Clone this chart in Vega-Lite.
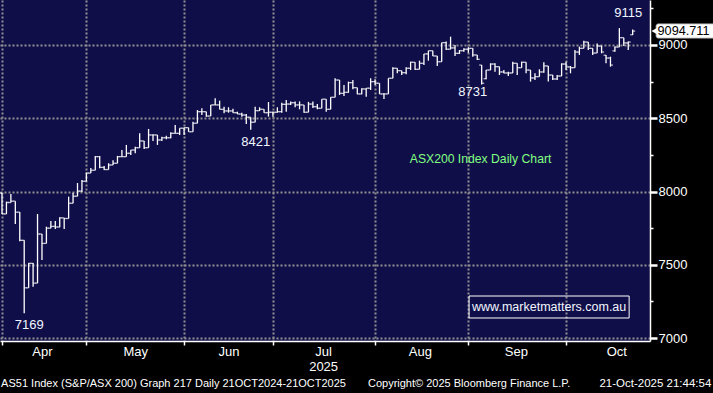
{
"$schema": "https://vega.github.io/schema/vega-lite/v6.json",
"width": 650, "height": 341,
"autosize": {"type": "none"},
"padding": {"left": 0, "top": 0, "right": 63, "bottom": 52},
"background": "#000000",
"config": {"view": {"fill": "#100e48", "stroke": null}, "font": "Liberation Sans", "text": {"font": "Liberation Sans"}},
"data": {"values": [
{"d":"2025-03-31","i":0,"o":7990,"h":7990,"l":7847,"c":7847},
{"d":"2025-04-01","i":1,"o":7847,"h":7931,"l":7847,"c":7925},
{"d":"2025-04-02","i":2,"o":7925,"h":7983,"l":7925,"c":7934},
{"d":"2025-04-03","i":3,"o":7934,"h":7934,"l":7778,"c":7859},
{"d":"2025-04-04","i":4,"o":7859,"h":7860,"l":7660,"c":7667},
{"d":"2025-04-07","i":5,"o":7667,"h":7667,"l":7169,"c":7343},
{"d":"2025-04-08","i":6,"o":7343,"h":7512,"l":7343,"c":7510},
{"d":"2025-04-09","i":7,"o":7510,"h":7512,"l":7351,"c":7375},
{"d":"2025-04-10","i":8,"o":7375,"h":7847,"l":7375,"c":7710},
{"d":"2025-04-11","i":9,"o":7710,"h":7710,"l":7533,"c":7646},
{"d":"2025-04-14","i":10,"o":7646,"h":7760,"l":7646,"c":7750},
{"d":"2025-04-15","i":11,"o":7750,"h":7799,"l":7750,"c":7762},
{"d":"2025-04-16","i":12,"o":7762,"h":7799,"l":7745,"c":7758},
{"d":"2025-04-17","i":13,"o":7758,"h":7825,"l":7756,"c":7820},
{"d":"2025-04-22","i":14,"o":7820,"h":7820,"l":7744,"c":7816},
{"d":"2025-04-23","i":15,"o":7816,"h":7965,"l":7816,"c":7920},
{"d":"2025-04-24","i":16,"o":7920,"h":7992,"l":7920,"c":7968},
{"d":"2025-04-28","i":17,"o":7968,"h":8058,"l":7968,"c":8003},
{"d":"2025-04-29","i":18,"o":8003,"h":8079,"l":7997,"c":8070},
{"d":"2025-04-30","i":19,"o":8070,"h":8129,"l":8070,"c":8126},
{"d":"2025-05-01","i":20,"o":8126,"h":8161,"l":8126,"c":8145},
{"d":"2025-05-02","i":21,"o":8145,"h":8243,"l":8145,"c":8238},
{"d":"2025-05-05","i":22,"o":8238,"h":8243,"l":8159,"c":8165},
{"d":"2025-05-06","i":23,"o":8165,"h":8175,"l":8147,"c":8150},
{"d":"2025-05-07","i":24,"o":8150,"h":8193,"l":8150,"c":8181},
{"d":"2025-05-08","i":25,"o":8181,"h":8213,"l":8181,"c":8193},
{"d":"2025-05-09","i":26,"o":8193,"h":8243,"l":8193,"c":8238},
{"d":"2025-05-12","i":27,"o":8238,"h":8283,"l":8238,"c":8238},
{"d":"2025-05-13","i":28,"o":8238,"h":8318,"l":8238,"c":8261},
{"d":"2025-05-14","i":29,"o":8261,"h":8283,"l":8249,"c":8283},
{"d":"2025-05-15","i":30,"o":8283,"h":8306,"l":8261,"c":8299},
{"d":"2025-05-16","i":31,"o":8299,"h":8397,"l":8299,"c":8345},
{"d":"2025-05-19","i":32,"o":8345,"h":8345,"l":8290,"c":8299},
{"d":"2025-05-20","i":33,"o":8299,"h":8427,"l":8299,"c":8386},
{"d":"2025-05-21","i":34,"o":8386,"h":8390,"l":8345,"c":8386},
{"d":"2025-05-22","i":35,"o":8386,"h":8386,"l":8318,"c":8352},
{"d":"2025-05-23","i":36,"o":8352,"h":8374,"l":8345,"c":8367},
{"d":"2025-05-26","i":37,"o":8367,"h":8380,"l":8357,"c":8367},
{"d":"2025-05-27","i":38,"o":8367,"h":8404,"l":8363,"c":8397},
{"d":"2025-05-28","i":39,"o":8397,"h":8454,"l":8397,"c":8397},
{"d":"2025-05-29","i":40,"o":8397,"h":8432,"l":8386,"c":8432},
{"d":"2025-05-30","i":41,"o":8432,"h":8436,"l":8386,"c":8436},
{"d":"2025-06-02","i":42,"o":8436,"h":8436,"l":8408,"c":8408},
{"d":"2025-06-03","i":43,"o":8408,"h":8477,"l":8408,"c":8466},
{"d":"2025-06-04","i":44,"o":8466,"h":8556,"l":8466,"c":8545},
{"d":"2025-06-05","i":45,"o":8545,"h":8568,"l":8522,"c":8545},
{"d":"2025-06-06","i":46,"o":8545,"h":8545,"l":8511,"c":8515},
{"d":"2025-06-10","i":47,"o":8515,"h":8591,"l":8515,"c":8591},
{"d":"2025-06-11","i":48,"o":8591,"h":8636,"l":8591,"c":8591},
{"d":"2025-06-12","i":49,"o":8591,"h":8620,"l":8561,"c":8561},
{"d":"2025-06-13","i":50,"o":8561,"h":8579,"l":8534,"c":8550},
{"d":"2025-06-16","i":51,"o":8550,"h":8575,"l":8538,"c":8550},
{"d":"2025-06-17","i":52,"o":8550,"h":8565,"l":8538,"c":8538},
{"d":"2025-06-18","i":53,"o":8538,"h":8545,"l":8529,"c":8529},
{"d":"2025-06-19","i":54,"o":8529,"h":8538,"l":8510,"c":8522},
{"d":"2025-06-20","i":55,"o":8522,"h":8529,"l":8461,"c":8507},
{"d":"2025-06-23","i":56,"o":8507,"h":8507,"l":8421,"c":8473},
{"d":"2025-06-24","i":57,"o":8473,"h":8579,"l":8473,"c":8552},
{"d":"2025-06-25","i":58,"o":8552,"h":8575,"l":8550,"c":8561},
{"d":"2025-06-26","i":59,"o":8561,"h":8561,"l":8538,"c":8538},
{"d":"2025-06-27","i":60,"o":8538,"h":8611,"l":8511,"c":8541},
{"d":"2025-06-30","i":61,"o":8541,"h":8545,"l":8511,"c":8541},
{"d":"2025-07-01","i":62,"o":8541,"h":8575,"l":8538,"c":8545},
{"d":"2025-07-02","i":63,"o":8545,"h":8606,"l":8538,"c":8595},
{"d":"2025-07-03","i":64,"o":8595,"h":8625,"l":8545,"c":8597},
{"d":"2025-07-04","i":65,"o":8597,"h":8615,"l":8591,"c":8606},
{"d":"2025-07-07","i":66,"o":8606,"h":8615,"l":8575,"c":8591},
{"d":"2025-07-08","i":67,"o":8591,"h":8615,"l":8561,"c":8591},
{"d":"2025-07-09","i":68,"o":8591,"h":8591,"l":8538,"c":8541},
{"d":"2025-07-10","i":69,"o":8541,"h":8612,"l":8541,"c":8597},
{"d":"2025-07-11","i":70,"o":8597,"h":8615,"l":8570,"c":8579},
{"d":"2025-07-14","i":71,"o":8579,"h":8597,"l":8561,"c":8568},
{"d":"2025-07-15","i":72,"o":8568,"h":8630,"l":8568,"c":8630},
{"d":"2025-07-16","i":73,"o":8630,"h":8630,"l":8545,"c":8561},
{"d":"2025-07-17","i":74,"o":8561,"h":8643,"l":8561,"c":8643},
{"d":"2025-07-18","i":75,"o":8643,"h":8773,"l":8643,"c":8761},
{"d":"2025-07-21","i":76,"o":8761,"h":8761,"l":8659,"c":8670},
{"d":"2025-07-22","i":77,"o":8670,"h":8727,"l":8652,"c":8677},
{"d":"2025-07-23","i":78,"o":8677,"h":8750,"l":8674,"c":8743},
{"d":"2025-07-24","i":79,"o":8743,"h":8761,"l":8698,"c":8709},
{"d":"2025-07-25","i":80,"o":8709,"h":8709,"l":8664,"c":8666},
{"d":"2025-07-28","i":81,"o":8666,"h":8705,"l":8664,"c":8700},
{"d":"2025-07-29","i":82,"o":8700,"h":8705,"l":8647,"c":8705},
{"d":"2025-07-30","i":83,"o":8705,"h":8773,"l":8693,"c":8750},
{"d":"2025-07-31","i":84,"o":8750,"h":8766,"l":8727,"c":8739},
{"d":"2025-08-01","i":85,"o":8739,"h":8739,"l":8666,"c":8666},
{"d":"2025-08-04","i":86,"o":8666,"h":8670,"l":8632,"c":8666},
{"d":"2025-08-05","i":87,"o":8666,"h":8773,"l":8666,"c":8773},
{"d":"2025-08-06","i":88,"o":8773,"h":8848,"l":8773,"c":8841},
{"d":"2025-08-07","i":89,"o":8841,"h":8841,"l":8807,"c":8825},
{"d":"2025-08-08","i":90,"o":8825,"h":8825,"l":8795,"c":8811},
{"d":"2025-08-11","i":91,"o":8811,"h":8848,"l":8800,"c":8841},
{"d":"2025-08-12","i":92,"o":8841,"h":8886,"l":8829,"c":8882},
{"d":"2025-08-13","i":93,"o":8882,"h":8882,"l":8829,"c":8834},
{"d":"2025-08-14","i":94,"o":8834,"h":8893,"l":8834,"c":8875},
{"d":"2025-08-15","i":95,"o":8875,"h":8939,"l":8864,"c":8939},
{"d":"2025-08-18","i":96,"o":8939,"h":8961,"l":8893,"c":8961},
{"d":"2025-08-19","i":97,"o":8961,"h":8961,"l":8925,"c":8925},
{"d":"2025-08-20","i":98,"o":8925,"h":8925,"l":8857,"c":8886},
{"d":"2025-08-21","i":99,"o":8886,"h":9016,"l":8886,"c":9016},
{"d":"2025-08-22","i":100,"o":9016,"h":9023,"l":8966,"c":8971},
{"d":"2025-08-25","i":101,"o":8971,"h":9057,"l":8971,"c":8980},
{"d":"2025-08-26","i":102,"o":8980,"h":9000,"l":8925,"c":8943},
{"d":"2025-08-27","i":103,"o":8943,"h":8966,"l":8939,"c":8961},
{"d":"2025-08-28","i":104,"o":8961,"h":8977,"l":8954,"c":8971},
{"d":"2025-08-29","i":105,"o":8971,"h":8984,"l":8947,"c":8977},
{"d":"2025-09-01","i":106,"o":8977,"h":8977,"l":8920,"c":8932},
{"d":"2025-09-02","i":107,"o":8932,"h":8932,"l":8898,"c":8902},
{"d":"2025-09-03","i":108,"o":8863,"h":8863,"l":8731,"c":8739},
{"d":"2025-09-04","i":109,"o":8770,"h":8829,"l":8766,"c":8829},
{"d":"2025-09-05","i":110,"o":8829,"h":8875,"l":8829,"c":8870},
{"d":"2025-09-08","i":111,"o":8870,"h":8875,"l":8818,"c":8852},
{"d":"2025-09-09","i":112,"o":8852,"h":8852,"l":8795,"c":8816},
{"d":"2025-09-10","i":113,"o":8816,"h":8830,"l":8807,"c":8809},
{"d":"2025-09-11","i":114,"o":8809,"h":8818,"l":8788,"c":8809},
{"d":"2025-09-12","i":115,"o":8809,"h":8886,"l":8809,"c":8875},
{"d":"2025-09-15","i":116,"o":8875,"h":8875,"l":8795,"c":8845},
{"d":"2025-09-16","i":117,"o":8845,"h":8886,"l":8845,"c":8882},
{"d":"2025-09-17","i":118,"o":8882,"h":8882,"l":8807,"c":8829},
{"d":"2025-09-18","i":119,"o":8829,"h":8829,"l":8750,"c":8775},
{"d":"2025-09-19","i":120,"o":8775,"h":8807,"l":8761,"c":8784},
{"d":"2025-09-22","i":121,"o":8784,"h":8834,"l":8784,"c":8816},
{"d":"2025-09-23","i":122,"o":8816,"h":8882,"l":8811,"c":8857},
{"d":"2025-09-24","i":123,"o":8857,"h":8857,"l":8750,"c":8795},
{"d":"2025-09-25","i":124,"o":8795,"h":8795,"l":8761,"c":8768},
{"d":"2025-09-26","i":125,"o":8768,"h":8795,"l":8761,"c":8788},
{"d":"2025-09-29","i":126,"o":8788,"h":8875,"l":8788,"c":8870},
{"d":"2025-09-30","i":127,"o":8870,"h":8886,"l":8829,"c":8850},
{"d":"2025-10-01","i":128,"o":8850,"h":8857,"l":8807,"c":8845},
{"d":"2025-10-02","i":129,"o":8845,"h":8966,"l":8845,"c":8952},
{"d":"2025-10-03","i":130,"o":8952,"h":8989,"l":8932,"c":8977},
{"d":"2025-10-06","i":131,"o":8977,"h":9029,"l":8977,"c":9020},
{"d":"2025-10-07","i":132,"o":9020,"h":9020,"l":8966,"c":8977},
{"d":"2025-10-08","i":133,"o":8977,"h":8977,"l":8932,"c":8945},
{"d":"2025-10-09","i":134,"o":8945,"h":9011,"l":8945,"c":8993},
{"d":"2025-10-10","i":135,"o":8993,"h":8993,"l":8943,"c":8952},
{"d":"2025-10-13","i":136,"o":8930,"h":8932,"l":8875,"c":8911},
{"d":"2025-10-14","i":137,"o":8911,"h":8920,"l":8852,"c":8863},
{"d":"2025-10-15","i":138,"o":8960,"h":8989,"l":8954,"c":8986},
{"d":"2025-10-16","i":139,"o":8986,"h":9115,"l":8986,"c":9050},
{"d":"2025-10-17","i":140,"o":9050,"h":9050,"l":8993,"c":9014},
{"d":"2025-10-20","i":141,"o":9014,"h":9023,"l":8966,"c":9020},
{"d":"2025-10-21","i":142,"o":9070,"h":9105,"l":9068,"c":9094.711}
]},
"resolve": {"axis": {"x": "independent", "y": "independent"}},
"layer": [
{"mark": {"type": "rule", "color": "#ffffff", "strokeWidth": 1.3},
 "encoding": {
  "x": {"field": "i", "type": "quantitative", "scale": {"domain": [-0.45, 145.9], "nice": false, "zero": false},
    "axis": {"orient": "bottom", "values": [0, 19, 41, 61, 84, 105, 127], "labels": false, "title": null, "grid": true, "gridColor": "#8f8f8f", "gridDash": [2, 2], "gridWidth": 2, "domainColor": "#ffffff", "domainWidth": 1.5, "tickColor": "#ffffff", "tickSize": 4, "tickWidth": 1.5}},
  "y": {"field": "l", "type": "quantitative", "scale": {"domain": [6980, 9307], "nice": false, "zero": false},
    "axis": {"orient": "right", "values": [7000, 7500, 8000, 8500, 9000], "format": "d", "title": null, "grid": true, "gridColor": "#8f8f8f", "gridDash": [2, 2], "gridWidth": 2, "domainColor": "#ffffff", "domainWidth": 1.5, "tickColor": "#ffffff", "tickSize": 7, "tickWidth": 2.5, "labelColor": "#ffffff", "labelFont": "Liberation Sans", "labelFontSize": 13, "labelPadding": 1, "labelFlush": false, "labelOverlap": false}},
  "y2": {"field": "h"}
 }},
{"mark": {"type": "tick", "orient": "horizontal", "color": "#ffffff", "size": 2.6, "thickness": 1.3, "xOffset": -1.2},
 "encoding": {
  "x": {"field": "i", "type": "quantitative",
    "axis": {"orient": "bottom", "values": [9, 30, 51, 72.3, 94.1, 115.7, 138.3], "ticks": false, "domain": false, "grid": false, "title": null, "labelColor": "#ffffff", "labelFont": "Liberation Sans", "labelFontSize": 13, "labelPadding": 4, "labelLineHeight": 15, "labelOverlap": false, "labelFlush": false,
      "labelExpr": "datum.value < 20 ? 'Apr' : datum.value < 40 ? 'May' : datum.value < 60 ? 'Jun' : datum.value < 80 ? ['Jul', '2025'] : datum.value < 100 ? 'Aug' : datum.value < 125 ? 'Sep' : 'Oct'"}},
  "y": {"field": "o", "type": "quantitative",
    "axis": {"orient": "right", "values": [7250, 7750, 8250, 8750, 9250], "labels": false, "grid": false, "domain": false, "title": null, "tickColor": "#ffffff", "tickSize": 3, "tickWidth": 1.5}}
 }},
{"mark": {"type": "tick", "orient": "horizontal", "color": "#ffffff", "size": 2.6, "thickness": 1.3, "xOffset": 1.2},
 "encoding": {
  "x": {"field": "i", "type": "quantitative", "axis": null},
  "y": {"field": "c", "type": "quantitative", "axis": null}
 }},
{"data": {"values": [{"i": 5, "v": 7169, "t": "7169"}, {"i": 56, "v": 8421, "t": "8421"}]},
 "mark": {"type": "text", "color": "#f0f6ff", "fontSize": 13, "dx": 5, "dy": 12, "baseline": "middle"},
 "encoding": {"x": {"field": "i", "type": "quantitative", "axis": null}, "y": {"field": "v", "type": "quantitative", "axis": null}, "text": {"field": "t"}}},
{"data": {"values": [{"i": 108, "v": 8731, "t": "8731"}]},
 "mark": {"type": "text", "color": "#f0f6ff", "fontSize": 13, "dx": -9, "dy": 8, "baseline": "middle"},
 "encoding": {"x": {"field": "i", "type": "quantitative", "axis": null}, "y": {"field": "v", "type": "quantitative", "axis": null}, "text": {"field": "t"}}},
{"data": {"values": [{"i": 139, "v": 9115, "t": "9115"}]},
 "mark": {"type": "text", "color": "#f0f6ff", "fontSize": 13, "dx": 9, "dy": -15, "baseline": "middle"},
 "encoding": {"x": {"field": "i", "type": "quantitative", "axis": null}, "y": {"field": "v", "type": "quantitative", "axis": null}, "text": {"field": "t"}}},
{"data": {"values": [{"t": "ASX200 Index Daily Chart"}]},
 "mark": {"type": "text", "color": "#80ff80", "fontSize": 12.2, "baseline": "middle"},
 "encoding": {"x": {"datum": 107.75, "type": "quantitative", "axis": null}, "y": {"datum": 8222, "type": "quantitative", "axis": null}, "text": {"field": "t"}}},
{"data": {"values": [{}]},
 "mark": {"type": "rect", "fillOpacity": 0, "stroke": "#ffffff", "strokeWidth": 1},
 "encoding": {"x": {"datum": 105.16, "type": "quantitative", "axis": null}, "x2": {"datum": 141.2}, "y": {"datum": 7287, "type": "quantitative", "axis": null}, "y2": {"datum": 7137}}},
{"data": {"values": [{"t": "www.marketmatters.com.au"}]},
 "mark": {"type": "text", "color": "#f0f6ff", "fontSize": 12.5, "baseline": "middle"},
 "encoding": {"x": {"datum": 123.2, "type": "quantitative", "axis": null}, "y": {"datum": 7212, "type": "quantitative", "axis": null}, "text": {"field": "t"}}},
{"data": {"values": [{}]},
 "mark": {"type": "rect", "fill": "#ffffff", "stroke": "#cfcfcf", "strokeWidth": 1, "cornerRadius": 2},
 "encoding": {"x": {"datum": 147.3, "type": "quantitative", "axis": null}, "x2": {"datum": 161}, "y": {"datum": 9143, "type": "quantitative", "axis": null}, "y2": {"datum": 9048}}},
{"data": {"values": [{}]},
 "mark": {"type": "point", "shape": "triangle-left", "filled": true, "fill": "#ffffff", "size": 60, "opacity": 1},
 "encoding": {"x": {"datum": 147.0, "type": "quantitative", "axis": null}, "y": {"datum": 9094.711, "type": "quantitative", "axis": null}}},
{"data": {"values": [{"t": "9094.711"}]},
 "mark": {"type": "text", "color": "#000000", "fontSize": 12.7, "align": "left", "baseline": "middle"},
 "encoding": {"x": {"datum": 147.6, "type": "quantitative", "axis": null}, "y": {"datum": 9094.711, "type": "quantitative", "axis": null}, "text": {"field": "t"}}},
{"data": {"values": [{"t": "AS51 Index (S&P/ASX 200) Graph 217 Daily 21OCT2024-21OCT2025"}]},
 "mark": {"type": "text", "color": "#ffffff", "fontSize": 11, "align": "left", "baseline": "middle"},
 "encoding": {"x": {"datum": -0.2, "type": "quantitative", "axis": null}, "y": {"datum": 6687, "type": "quantitative", "axis": null}, "text": {"field": "t"}}},
{"data": {"values": [{"t": "Copyright© 2025 Bloomberg Finance L.P."}]},
 "mark": {"type": "text", "color": "#ffffff", "fontSize": 11, "align": "left", "baseline": "middle"},
 "encoding": {"x": {"datum": 82.4, "type": "quantitative", "axis": null}, "y": {"datum": 6687, "type": "quantitative", "axis": null}, "text": {"field": "t"}}},
{"data": {"values": [{"t": "21-Oct-2025 21:44:54"}]},
 "mark": {"type": "text", "color": "#ffffff", "fontSize": 11.5, "align": "right", "baseline": "middle"},
 "encoding": {"x": {"datum": 159.7, "type": "quantitative", "axis": null}, "y": {"datum": 6687, "type": "quantitative", "axis": null}, "text": {"field": "t"}}}
]
}
